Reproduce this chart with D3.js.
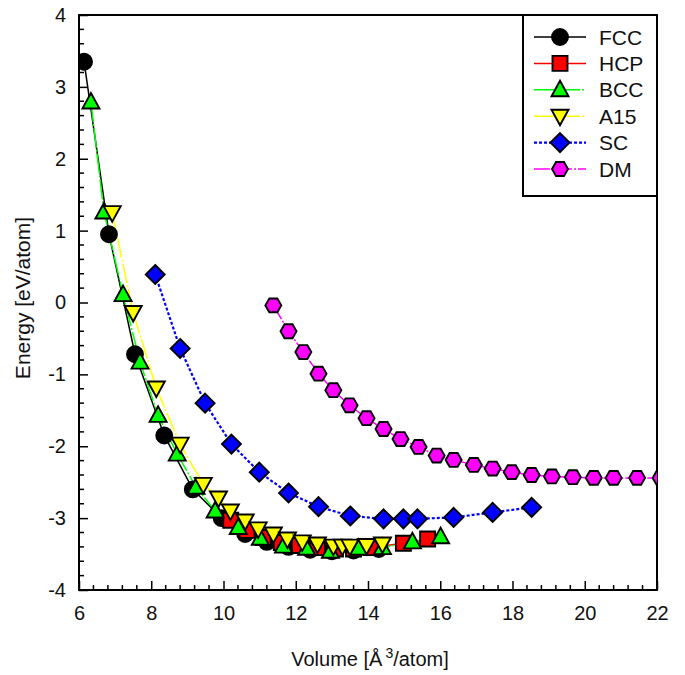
<!DOCTYPE html>
<html lang="en">
<head>
<meta charset="utf-8">
<title>Energy vs Volume</title>
<script src="https://d3js.org/d3.v7.min.js"></script>
<style>
  body { margin: 0; background: #fff; }
  text { font-family: "Liberation Sans", Arial, sans-serif; fill: #111; }
</style>
</head>
<body>
<div id="chart"></div>
<script>
// series data: [volume, energy]
var fcc = [[6.14,3.35],[6.83,0.95],[7.55,-0.72],[8.36,-1.85],[9.15,-2.6],[9.95,-3.0],[10.6,-3.22],[11.2,-3.33],[11.8,-3.4],[12.4,-3.44],[13.0,-3.46],[13.6,-3.45],[14.3,-3.43]];
var hcp = [[10.2,-3.03],[10.65,-3.17],[11.1,-3.27],[11.6,-3.34],[12.1,-3.38],[12.6,-3.41],[13.1,-3.43],[13.6,-3.43],[14.1,-3.41],[14.98,-3.35],[15.65,-3.29]];
var bcc = [[6.33,2.79],[6.69,1.26],[7.22,0.11],[7.69,-0.83],[8.19,-1.57],[8.72,-2.11],[9.24,-2.57],[9.77,-2.9],[10.41,-3.13],[11.02,-3.28],[11.66,-3.39],[12.3,-3.42],[12.96,-3.46],[13.74,-3.42],[14.4,-3.41],[15.23,-3.33],[16.01,-3.26]];
var a15 = [[6.92,1.25],[7.5,-0.14],[8.14,-1.19],[8.8,-1.97],[9.44,-2.53],[9.86,-2.72],[10.19,-2.9],[10.6,-3.04],[10.96,-3.15],[11.38,-3.22],[11.77,-3.29],[12.18,-3.33],[12.6,-3.36],[13.04,-3.39],[13.29,-3.39],[13.5,-3.39],[13.96,-3.38],[14.4,-3.36]];
var sc  = [[8.11,0.39],[8.8,-0.64],[9.49,-1.4],[10.22,-1.97],[10.99,-2.36],[11.8,-2.65],[12.63,-2.84],[13.51,-2.97],[14.43,-3.01],[14.98,-3.01],[15.37,-3.01],[16.37,-2.99],[17.45,-2.92],[18.53,-2.85]];
var dm  = [[11.38,-0.04],[11.8,-0.4],[12.21,-0.69],[12.63,-0.99],[13.04,-1.22],[13.49,-1.43],[13.96,-1.61],[14.43,-1.76],[14.9,-1.9],[15.4,-2.01],[15.9,-2.13],[16.37,-2.19],[16.93,-2.26],[17.45,-2.31],[17.98,-2.36],[18.53,-2.4],[19.09,-2.42],[19.67,-2.43],[20.25,-2.44],[20.8,-2.44],[21.45,-2.44],[22.1,-2.44]];

var names = ["FCC","HCP","BCC","A15","SC","DM"];
var xTicks = [6,8,10,12,14,16,18,20,22];
var yTicks = [-4,-3,-2,-1,0,1,2,3,4];

var series = [
  {name:"FCC", data:fcc, color:"#000000", shape:"circle",  dash:null},
  {name:"HCP", data:hcp, color:"#ff0000", shape:"square",  dash:null},
  {name:"BCC", data:bcc, color:"#00ff00", shape:"triangle",dash:"20,2,2,2"},
  {name:"A15", data:a15, color:"#ffff00", shape:"tridown", dash:"20,2,2,2"},
  {name:"SC",  data:sc,  color:"#0000ff", shape:"diamond", dash:"3,2"},
  {name:"DM",  data:dm,  color:"#ff00ff", shape:"hexagon", dash:"16,2,2,2"}
];

var W = 685, H = 675;
var margin = {top: 15, right: 28, bottom: 85, left: 79};
var width = W - margin.left - margin.right,
    height = H - margin.top - margin.bottom;

var svg = d3.select("#chart").append("svg")
    .attr("width", W).attr("height", H);
var g = svg.append("g")
    .attr("transform", "translate(" + margin.left + "," + margin.top + ")");

var x = d3.scaleLinear().domain([6, 22]).range([0, width]);
var y = d3.scaleLinear().domain([-4, 4]).range([height, 0]);

// minor ticks (inward)
var xMinor = d3.range(6, 22.001, 0.4).filter(function(v){ return Math.abs(v/2 - Math.round(v/2)) > 0.01; });
var yMinor = d3.range(-4, 4.001, 0.2).filter(function(v){ return Math.abs(v - Math.round(v)) > 0.01; });

g.selectAll(".xminor").data(xMinor).enter().append("line")
  .attr("x1", function(d){return x(d);}).attr("x2", function(d){return x(d);})
  .attr("y1", height).attr("y2", height - 5)
  .attr("stroke", "#000").attr("stroke-width", 1.5);
g.selectAll(".yminor").data(yMinor).enter().append("line")
  .attr("y1", function(d){return y(d);}).attr("y2", function(d){return y(d);})
  .attr("x1", 0).attr("x2", 5)
  .attr("stroke", "#000").attr("stroke-width", 1.5);

var fmt = function(d){ return String(d); };  // plain hyphen minus
var xAxis = g.append("g").attr("transform", "translate(0," + height + ")")
  .call(d3.axisBottom(x).tickValues(xTicks).tickFormat(fmt).tickSizeInner(-9).tickSizeOuter(0).tickPadding(16));
var yAxis = g.append("g")
  .call(d3.axisLeft(y).tickValues(yTicks).tickFormat(fmt).tickSizeInner(-9).tickSizeOuter(0).tickPadding(13));
[xAxis, yAxis].forEach(function(a){
  a.attr("font-size", null).attr("font-family", null);
  a.select(".domain").remove();
  a.selectAll("line").attr("stroke", "#000").attr("stroke-width", 1.5);
  a.selectAll("text").style("font-size", "20px").attr("fill", "#111");
});

// frame
g.append("rect").attr("x", 0).attr("y", 0).attr("width", width).attr("height", height)
  .attr("fill", "none").attr("stroke", "#000").attr("stroke-width", 2);

// clip
svg.append("defs").append("clipPath").attr("id", "clip")
  .append("rect").attr("width", width).attr("height", height);

function symbolFor(shape) {
  if (shape === "circle") return d3.symbol().type(d3.symbolCircle).size(Math.PI * 8 * 8)();
  if (shape === "square") return "M-7.5,-7.5h15v15h-15Z";
  if (shape === "triangle") return "M0,-9L8.5,6.5L-8.5,6.5Z";
  if (shape === "tridown") return "M0,9L8.5,-6.5L-8.5,-6.5Z";
  if (shape === "diamond") return "M0,-9.5L9.5,0L0,9.5L-9.5,0Z";
  if (shape === "hexagon") {
    var pts = d3.range(6).map(function(i){ var a = Math.PI/3*i; return [8*Math.cos(a), 8*Math.sin(a)]; });
    return "M" + pts.join("L") + "Z";
  }
}

var line = d3.line().x(function(d){return x(d[0]);}).y(function(d){return y(d[1]);});
var plot = g.append("g").attr("clip-path", "url(#clip)");

// draw lines first, then markers, in series order
series.forEach(function(s){
  plot.append("path").datum(s.data)
    .attr("d", line).attr("fill", "none")
    .attr("stroke", s.color).attr("stroke-width", s.name === "SC" ? 2.2 : 1.5)
    .attr("stroke-dasharray", s.dash);
});
series.forEach(function(s){
  plot.selectAll(null).data(s.data).enter().append("path")
    .attr("transform", function(d){ return "translate(" + x(d[0]) + "," + y(d[1]) + ")"; })
    .attr("d", symbolFor(s.shape))
    .attr("fill", s.color).attr("stroke", "#000").attr("stroke-width", 1.9);
});

// legend
var lg = svg.append("g");
lg.append("rect").attr("x", 523).attr("y", 15).attr("width", 134).attr("height", 181)
  .attr("fill", "#fff").attr("stroke", "#000").attr("stroke-width", 2);
series.forEach(function(s, i){
  var yy = 37 + i * 26.4;
  lg.append("line").attr("x1", 534).attr("x2", 586).attr("y1", yy).attr("y2", yy)
    .attr("stroke", s.color).attr("stroke-width", s.name === "SC" ? 2.2 : 1.5)
    .attr("stroke-dasharray", s.dash);
  lg.append("path").attr("transform", "translate(560," + yy + ")")
    .attr("d", symbolFor(s.shape))
    .attr("fill", s.color).attr("stroke", "#000").attr("stroke-width", 1.9);
  lg.append("text").attr("x", 599).attr("y", yy + 7.5).style("font-size", "21px").text(s.name);
});

// axis titles
svg.append("text").attr("x", margin.left + width / 2 + 2).attr("y", 666)
  .attr("text-anchor", "middle").style("font-size", "20px")
  .html('Volume [Å<tspan dy="-8" dx="3" font-size="14px">3</tspan><tspan dy="8">/atom]</tspan>');
svg.append("text").attr("transform", "translate(30,298) rotate(-90)")
  .attr("text-anchor", "middle").style("font-size", "21px").text("Energy [eV/atom]");
</script>
</body>
</html>
